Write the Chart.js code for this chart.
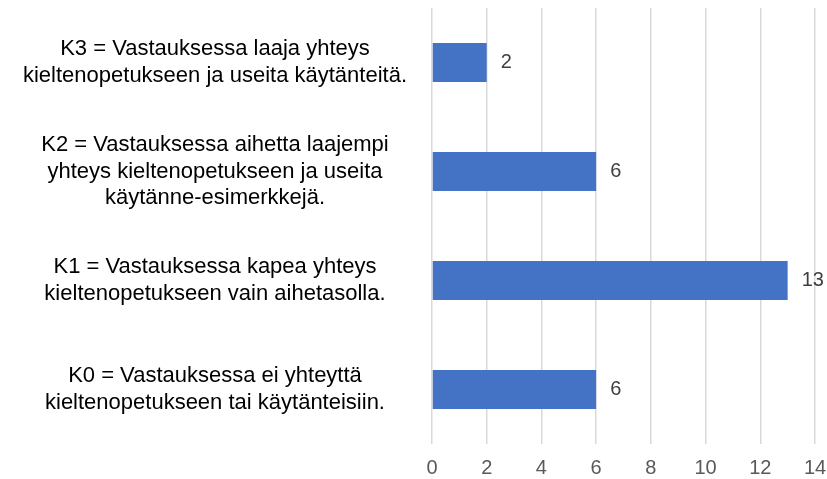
<!DOCTYPE html>
<html>
<head>
<meta charset="utf-8">
<script src="https://cdn.jsdelivr.net/npm/chart.js@4"></script>
<style>
  html, body { margin: 0; padding: 0; background: #fff; }
  #wrap { width: 827px; height: 479px; }
</style>
</head>
<body>
<div id="wrap"><canvas id="chart"></canvas></div>
<script>
const categories = [
  ["K3 = Vastauksessa laaja yhteys", "kieltenopetukseen ja useita käytänteitä."],
  ["K2 = Vastauksessa aihetta laajempi", "yhteys kieltenopetukseen ja useita", "käytänne-esimerkkejä."],
  ["K1 = Vastauksessa kapea yhteys", "kieltenopetukseen vain aihetasolla."],
  ["K0 = Vastauksessa ei yhteyttä", "kieltenopetukseen tai käytänteisiin."]
];
const values = [2, 6, 13, 6];
const xTicks = [0, 2, 4, 6, 8, 10, 12, 14];

// arvot palkkien perään
const valueLabels = {
  id: "valueLabels",
  afterDatasetsDraw(chart) {
    const ctx = chart.ctx;
    const meta = chart.getDatasetMeta(0);
    ctx.save();
    ctx.font = "20px 'Liberation Sans', Arial, sans-serif";
    ctx.fillStyle = "#404040";
    ctx.textAlign = "left";
    ctx.textBaseline = "middle";
    meta.data.forEach((bar, i) => {
      ctx.fillText(values[i], bar.x + 14, bar.y);
    });
    ctx.restore();
  },
};

const ctx = document.getElementById("chart").getContext("2d");
new Chart(ctx, {
  type: "bar",
  data: {
    labels: categories,
    datasets: [
      {
        data: values,
        backgroundColor: "#4472C4",
        borderWidth: 0,
        categoryPercentage: 1,
        barPercentage: 0.36,
      },
    ],
  },
  options: {
    indexAxis: "y",
    responsive: true,
    maintainAspectRatio: false,
    animation: false,
    layout: { padding: { top: 8, right: 0, bottom: 0, left: 0 } },
    plugins: {
      legend: { display: false },
      tooltip: { enabled: false },
    },
    scales: {
      x: {
        min: 0,
        max: 14,
        afterBuildTicks: (axis) => {
          axis.ticks = xTicks.map((v) => ({ value: v }));
        },
        afterFit: (axis) => {
          axis.height = 35;
          axis.paddingRight = 12;
        },
        grid: { color: "#d9d9d9", lineWidth: 1.5, drawTicks: false },
        border: { display: false },
        ticks: {
          padding: 12,
          color: "#595959",
          font: { family: "'Liberation Sans', Arial, sans-serif", size: 20 },
        },
      },
      y: {
        grid: { display: false },
        border: { display: false },
        afterFit: (axis) => {
          axis.width = 432;
          axis.paddingTop = 0;
          axis.paddingBottom = 0;
        },
        ticks: {
          crossAlign: "center",
          padding: 17,
          color: "#000000",
          font: { family: "'Liberation Sans', Arial, sans-serif", size: 22, lineHeight: 1.22 },
        },
      },
    },
  },
  plugins: [valueLabels],
});
</script>
</body>
</html>
